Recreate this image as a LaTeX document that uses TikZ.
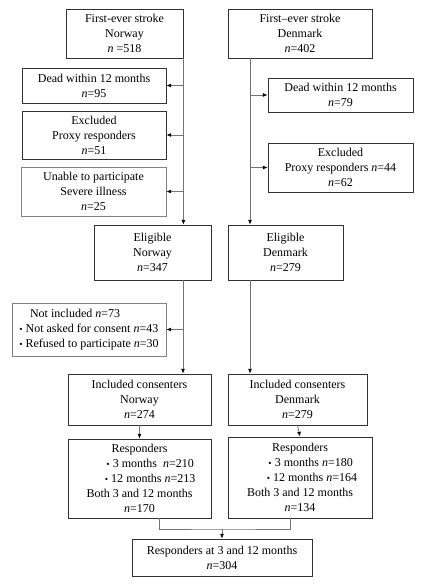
\documentclass[tikz,border=0pt]{standalone}
\usepackage{fontspec}
\setmainfont{Liberation Serif}
\usepackage{tikz}
\usetikzlibrary{positioning}
\usetikzlibrary{arrows.meta}
\usetikzlibrary{calc}
\newdimen\pxu
\pxu=0.75pt
\newcommand{\bul}{{\scriptsize\textbullet}~}

\begin{document}
\begin{tikzpicture}[x=0.75pt,y=-0.75pt]
\tikzset{box/.style={rectangle, draw=black!80, line width=0.6pt, align=center, inner sep=0pt, font=\fontsize{9}{11.25}\selectfont}}
\tikzset{softbox/.style={box, draw=black!50}}
\tikzset{link/.style={draw=black!55, line width=0.6pt}}
\tikzset{flow/.style={link, -{Latex[black,length=3.5pt,width=3pt]}}}
\useasboundingbox (0,0) rectangle (421,584);
% top row
\node[box, minimum width=117\pxu, minimum height=49\pxu] (nor) at (124.5,33.5) {First-ever stroke\\Norway\\\textit{n} =518};
\node[box, minimum width=144\pxu, minimum height=49\pxu] (den) at (300,33.5) {First--ever stroke\\Denmark\\\textit{n}=402};
% exclusions Norway
\node[box, minimum width=144\pxu, minimum height=35\pxu] (deadn) at (94,85.5) {Dead within 12 months\\\textit{n}=95};
\node[box, minimum width=144\pxu, minimum height=48\pxu] (exn) at (94,135) {Excluded\\Proxy responders\\\textit{n}=51};
\node[softbox, minimum width=145\pxu, minimum height=49\pxu] (unable) at (93.5,191.5) {Unable to participate\\Severe illness\\\textit{n}=25};
% exclusions Denmark
\node[box, minimum width=145\pxu, minimum height=34\pxu] (deadd) at (340.5,95) {Dead within 12 months\\\textit{n}=79};
\node[box, minimum width=145\pxu, minimum height=49\pxu] (exd) at (340.5,167.5) {Excluded\\Proxy responders \textit{n}=44\\\textit{n}=62};
% eligible
\node[box, minimum width=117\pxu, minimum height=55\pxu] (elin) at (152.5,252.5) {Eligible\\Norway\\\textit{n}=347};
\node[box, minimum width=115\pxu, minimum height=55\pxu] (elid) at (285.5,252.5) {Eligible\\Denmark\\\textit{n}=279};
\node[softbox, minimum width=154\pxu, minimum height=53\pxu, align=left] (notinc) at (89,329.5) {\hspace*{8pt}Not included \textit{n}=73\\\bul Not asked for consent \textit{n}=43\\\bul Refused to participate \textit{n}=30};
% included
\node[box, minimum width=143\pxu, minimum height=51\pxu] (incn) at (139.5,399.5) {Included consenters\\Norway\\\textit{n}=274};
\node[box, minimum width=139\pxu, minimum height=51\pxu] (incd) at (297.5,399.5) {Included consenters\\Denmark\\\textit{n}=279};
% responders
\node[box, minimum width=143\pxu, minimum height=79\pxu] (resn) at (139.5,478.5) {Responders\\\hspace*{16pt}\bul 3 months~~\textit{n}=210\\\hspace*{16pt}\bul 12 months \textit{n}=213\\Both 3 and 12 months\\\textit{n}=170};
\node[box, minimum width=144\pxu, minimum height=81\pxu] (resd) at (300,477.5) {Responders\\\hspace*{16pt}\bul 3 months \textit{n}=180\\\hspace*{18pt}\bul 12 months \textit{n}=164\\Both 3 and 12 months\\\textit{n}=134};
\node[box, minimum width=180\pxu, minimum height=37\pxu] (final) at (222,557.5) {Responders at 3 and 12 months\\\textit{n}=304};
% trunk points
\coordinate (ntr) at (nor.south east);
\coordinate (dtr) at (250,58);
\coordinate (ntr2) at (183,280);
\coordinate (dtr2) at (250,280);
\coordinate (ml) at (159,518);
\coordinate (mr) at (290,518);
\coordinate (mj) at (222,529);
% Norway
\draw[flow](ntr) -- (ntr |- elin.north);
\draw[flow](ntr |- deadn.east) -- (deadn.east);
\draw[flow](ntr |- exn.east) -- (exn.east);
\draw[flow](ntr |- unable.east) -- (unable.east);
\draw[flow](ntr2) -- (ntr2 |- incn.north);
\draw[flow](ntr2 |- notinc.east) -- (notinc.east);
% Denmark
\draw[flow](dtr) -- (dtr |- elid.north);
\draw[flow](dtr |- deadd.west) -- (deadd.west);
\draw[flow](dtr |- exd.west) -- (exd.west);
\draw[flow](dtr2) -- (dtr2 |- incd.north);
% responders
\draw[flow](incn.south) -- (resn.north);
\draw[flow](incd.south) -- (resd.north);
\draw[link](ml) |- (mj) -| (mr);
\draw[flow](mj) -- (final.north);
\end{tikzpicture}
\end{document}
